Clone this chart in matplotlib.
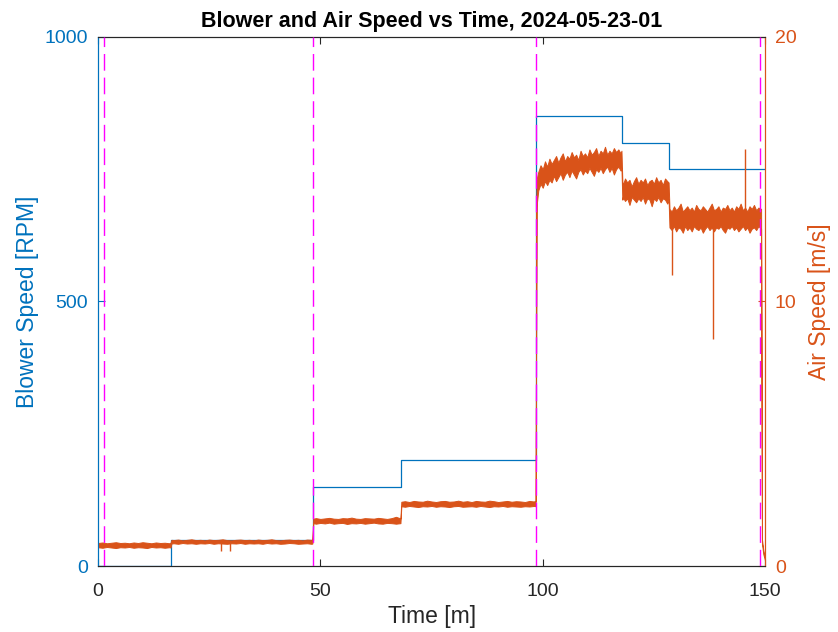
import numpy as np
import matplotlib.pyplot as plt

plt.rcParams['font.family'] = ['Liberation Sans', 'DejaVu Sans']

BLUE = '#0072BD'
ORANGE = '#D95319'
MAGENTA = '#FF00FF'

# blower set points [RPM], held until the next change time [m]
blower_t = [0, 16.4, 48.3, 68.1, 98.5, 117.8, 128.4, 150]
blower_rpm = [0, 50, 150, 200, 850, 800, 750, 750]

# phase markers [m]
marker_t = [1.35, 48.3, 98.5, 148.9]

# air speed envelope (min / max of the logged signal per sample bin) [m/s]
t_a = list(range(0, 17)) + [16.3]
lo_a = [0.71, 0.69, 0.72, 0.70, 0.68, 0.71, 0.70, 0.72, 0.69, 0.71, 0.70, 0.68, 0.72, 0.70, 0.71, 0.69, 0.71, 0.70]
hi_a = [0.87, 0.89, 0.86, 0.88, 0.90, 0.87, 0.88, 0.86, 0.89, 0.87, 0.90, 0.88, 0.86, 0.89, 0.87, 0.88, 0.86, 0.88]

t_b = [16.5] + list(range(17, 49)) + [48.2]
lo_b = [0.85, 0.86, 0.84, 0.87, 0.85, 0.86, 0.84, 0.86, 0.85, 0.87, 0.84, 0.86, 0.85, 0.84, 0.86, 0.85, 0.87,
        0.84, 0.86, 0.85, 0.86, 0.84, 0.87, 0.85, 0.86, 0.84, 0.85, 0.87, 0.86, 0.84, 0.85, 0.86, 0.84, 0.85]
hi_b = [0.99, 0.98, 1.00, 0.97, 0.99, 1.01, 0.98, 0.99, 0.97, 1.00, 0.98, 0.99, 1.01, 0.98, 0.97, 0.99, 1.00,
        0.98, 0.99, 0.97, 1.00, 0.98, 0.99, 1.01, 0.98, 0.97, 0.99, 1.00, 0.98, 0.99, 0.97, 1.00, 0.99, 0.98]

t_c = [48.4] + list(range(49, 68)) + [68.0]
lo_c = [1.62, 1.60, 1.63, 1.61, 1.64, 1.60, 1.62, 1.63, 1.59, 1.62, 1.61, 1.63, 1.60, 1.62, 1.64, 1.61, 1.60,
        1.63, 1.62, 1.60, 1.62]
hi_c = [1.79, 1.81, 1.78, 1.80, 1.82, 1.79, 1.78, 1.81, 1.80, 1.83, 1.79, 1.78, 1.81, 1.80, 1.79, 1.82, 1.80,
        1.78, 1.81, 1.86, 1.80]

t_d = [68.2] + list(range(69, 99)) + [98.4]
lo_d = [2.26, 2.24, 2.27, 2.25, 2.23, 2.26, 2.25, 2.27, 2.24, 2.26, 2.25, 2.23, 2.26, 2.27, 2.24, 2.25, 2.26,
        2.24, 2.27, 2.25, 2.23, 2.26, 2.25, 2.27, 2.24, 2.26, 2.25, 2.24, 2.26, 2.25, 2.27, 2.26]
hi_d = [2.43, 2.45, 2.42, 2.46, 2.44, 2.43, 2.47, 2.44, 2.42, 2.45, 2.46, 2.43, 2.44, 2.47, 2.43, 2.45, 2.42,
        2.46, 2.44, 2.43, 2.47, 2.45, 2.42, 2.44, 2.46, 2.43, 2.45, 2.44, 2.42, 2.46, 2.44, 2.47]

# high-speed stages, binned every half minute
t_e = [98.6] + list(np.arange(99, 118, 0.5)) + [117.7]
lo_e = [13.6, 14.2, 14.45, 14.3, 14.55, 14.4, 14.6, 14.5, 14.75, 14.55,
        14.7, 14.85, 14.6, 14.8, 14.9, 14.7, 14.95, 14.8, 14.65, 14.9,
        15.0, 14.8, 14.95, 14.85, 15.05, 14.9, 14.75, 15.0, 14.9, 15.05,
        14.85, 15.0, 15.1, 14.9, 15.05, 14.8, 15.0, 15.1, 14.95, 15.05]
hi_e = [14.6, 14.9, 15.15, 15.0, 15.3, 15.1, 15.4, 15.2, 15.35, 15.5,
        15.25, 15.45, 15.6, 15.3, 15.5, 15.4, 15.65, 15.45, 15.55, 15.35,
        15.7, 15.5, 15.6, 15.45, 15.75, 15.55, 15.65, 15.8, 15.5, 15.7,
        15.6, 15.85, 15.55, 15.7, 15.6, 15.8, 15.65, 15.75, 15.6, 15.7]

t_f = [117.9] + list(np.arange(118, 128.5, 0.5)) + [128.3]
lo_f = [13.85, 13.95, 13.8, 13.9, 13.65, 13.95, 13.85, 13.75, 13.9, 13.8,
        13.95, 13.7, 13.9, 13.85, 13.6, 13.9, 13.8, 13.95, 13.75, 13.9,
        13.85, 13.7, 13.85]
hi_f = [14.55, 14.4, 14.65, 14.5, 14.6, 14.35, 14.55, 14.7, 14.45, 14.6,
        14.5, 14.65, 14.4, 14.55, 14.6, 14.45, 14.7, 14.5, 14.6, 14.4,
        14.65, 14.55, 14.5]

t_g = [128.5] + list(np.arange(129, 149, 0.5)) + [149.1]
lo_g = [12.8, 12.7, 12.85, 12.65, 12.8, 12.75, 12.6, 12.85, 12.7, 12.8,
        12.65, 12.85, 12.75, 12.7, 12.8, 12.6, 12.75, 12.85, 12.7, 12.8,
        12.65, 12.8, 12.75, 12.85, 12.7, 12.6, 12.8, 12.75, 12.85, 12.7,
        12.8, 12.65, 12.75, 12.85, 12.7, 12.8, 12.6, 12.75, 12.8, 12.7,
        12.85, 12.75]
hi_g = [13.5, 13.4, 13.6, 13.45, 13.55, 13.7, 13.4, 13.5, 13.6, 13.45,
        13.55, 13.4, 13.65, 13.5, 13.45, 13.6, 13.5, 13.4, 13.55, 13.7,
        13.45, 13.5, 13.6, 13.4, 13.55, 13.5, 13.65, 13.45, 13.55, 13.4,
        13.6, 13.5, 13.7, 13.45, 13.55, 13.4, 13.6, 13.5, 13.65, 13.45,
        13.55, 13.5]

t_h = [149.3, 149.6, 150.0]
lo_h = [0.85, 0.45, 0.20]
hi_h = [1.00, 0.60, 0.30]

# single-sample outliers in the air speed log
spike_t = [27.6, 29.7, 129.0, 138.3, 145.5]
spike_from = [0.86, 0.86, 12.8, 12.8, 13.5]
spike_to = [0.57, 0.57, 11.0, 8.6, 15.75]

t_air = np.array(t_a + t_b + t_c + t_d + t_e + t_f + t_g + t_h, dtype=float)
air_lo = np.array(lo_a + lo_b + lo_c + lo_d + lo_e + lo_f + lo_g + lo_h)
air_hi = np.array(hi_a + hi_b + hi_c + hi_d + hi_e + hi_f + hi_g + hi_h)

fig = plt.figure(figsize=(8.38, 6.32), dpi=100)
ax1 = fig.add_axes([0.117, 0.1044, 0.796, 0.8371])
ax2 = ax1.twinx()

ax1.step(blower_t, blower_rpm, where='post', color=BLUE, lw=0.9, zorder=3)
ax1.set_ylim(0, 1000)
ax1.set_yticks([0, 500, 1000])
ax1.set_ylabel('Blower Speed [RPM]', color=BLUE, fontsize=16.5, labelpad=4)

ax2.fill_between(t_air, air_lo, air_hi, color=ORANGE, lw=0.7, edgecolor=ORANGE)
ax2.vlines(spike_t, spike_from, spike_to, color=ORANGE, lw=1.0)
ax2.set_ylim(0, 20)
ax2.set_yticks([0, 10, 20])
ax2.set_ylabel('Air Speed [m/s]', color=ORANGE, fontsize=16.5, labelpad=8)

for t in marker_t:
    ax2.axvline(t, color=MAGENTA, lw=1.0, ls=(0, (12, 5)), zorder=5)

ax1.set_xlim(0, 150)
ax1.set_xticks([0, 50, 100, 150])
ax1.set_xlabel('Time [m]', fontsize=16.5, color='#262626', labelpad=4)
ax1.set_title('Blower and Air Speed vs Time, 2024-05-23-01', fontsize=15.5, fontweight='bold', pad=7)

ax1.tick_params(axis='x', direction='in', length=5, top=True, labelsize=14, colors='#262626', pad=12)
ax1.tick_params(axis='y', direction='in', length=5, labelsize=14, colors=BLUE, pad=7)
ax2.tick_params(axis='y', direction='in', length=5, labelsize=14, colors=ORANGE, pad=7)

for ax in (ax1, ax2):
    ax.spines['top'].set_color('#262626')
    ax.spines['bottom'].set_color('#262626')
    ax.spines['left'].set_color(BLUE)
    ax.spines['right'].set_color(ORANGE)
    for s in ax.spines.values():
        s.set_linewidth(0.8)

fig.savefig('out.png', dpi=100)
